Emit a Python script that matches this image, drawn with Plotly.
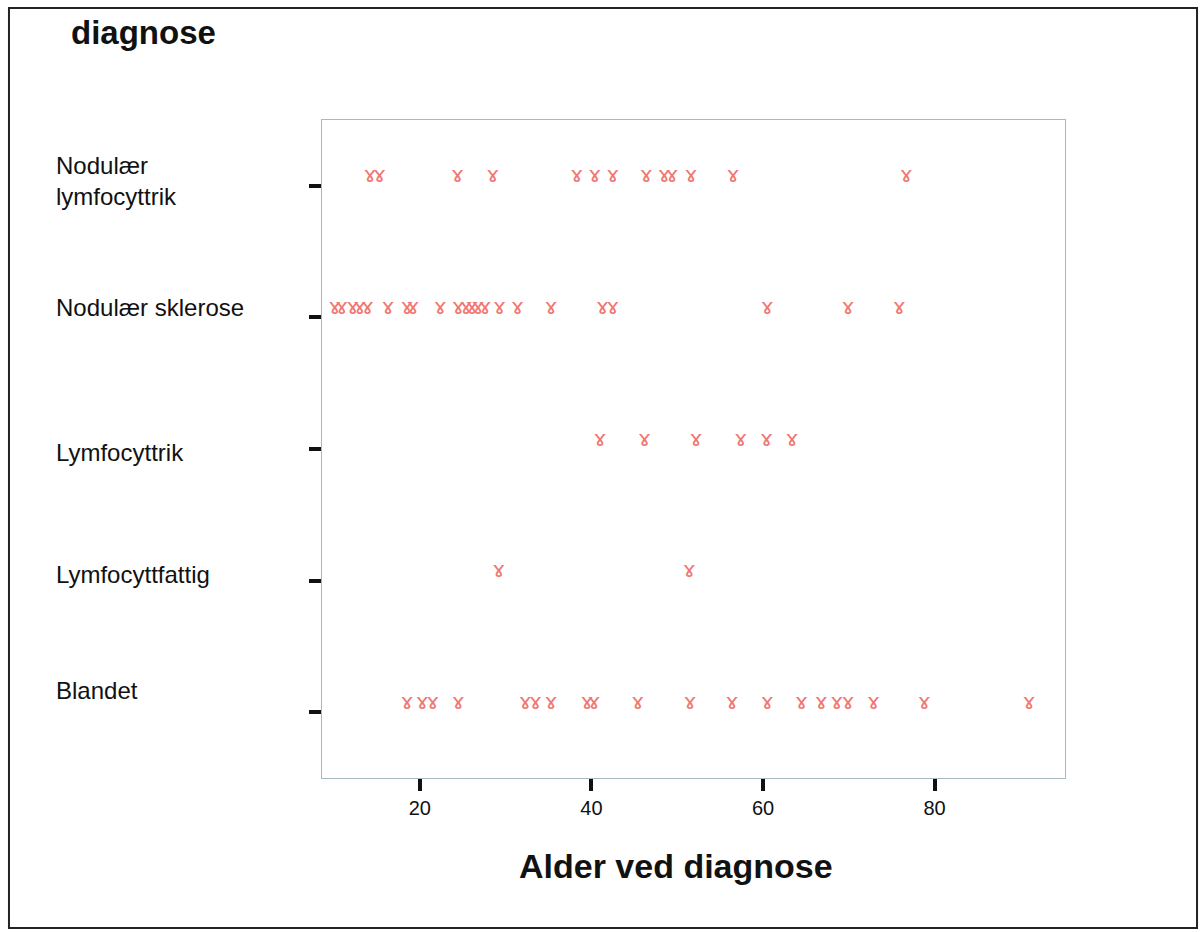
import plotly.graph_objects as go

categories = ["Blandet", "Lymfocyttfattig", "Lymfocyttrik", "Nodulær sklerose", "Nodulær<br>lymfocyttrik"]

ages_nodulaer_lymfocyttrik = [14.2, 15.3, 24.4, 28.5, 38.3, 40.4, 42.5, 46.4, 48.5, 49.4, 51.6, 56.5, 76.7]
ages_nodulaer_sklerose = [10.1, 10.9, 12.2, 13.0, 13.9, 16.3, 18.5, 19.2, 22.4, 24.5, 25.4, 26.1, 26.8,
                          27.6, 29.3, 31.4, 35.3, 41.3, 42.5, 60.5, 69.9, 75.9]
ages_lymfocyttrik = [41.0, 46.2, 52.2, 57.4, 60.4, 63.4]
ages_lymfocyttfattig = [29.2, 51.4]
ages_blandet = [18.5, 20.3, 21.5, 24.5, 32.3, 33.5, 35.3, 39.5, 40.3, 45.4, 51.5, 56.4, 60.5,
                64.5, 66.8, 68.6, 69.9, 72.9, 78.8, 91.0]

series = [ages_blandet, ages_lymfocyttfattig, ages_lymfocyttrik, ages_nodulaer_sklerose, ages_nodulaer_lymfocyttrik]
x_ticks = [20, 40, 60, 80]

label_shift = [22, 6, -3, 10, 5]
marker_color = "rgb(240,120,115)"

fig = go.Figure()
for i, vals in enumerate(series):
    fig.add_trace(go.Scatter(
        x=vals, y=[i] * len(vals), mode="text", yaxis="y2", text=["ɤ"] * len(vals),
        textposition="middle center",
        textfont=dict(family="DejaVu Sans", size=22, color=marker_color),
        showlegend=False, hoverinfo="x",
    ))

for i, c in enumerate(categories):
    fig.add_annotation(x=-0.3607, xref="paper", y=i, yref="y", yshift=label_shift[i],
                       text=c, showarrow=False, xanchor="left", yanchor="middle", align="left",
                       font=dict(family="Liberation Sans, Arial", size=24, color="#111"))

fig.add_annotation(x=-0.3405, xref="paper", y=1.1337, yref="paper", text="<b>diagnose</b>",
                   showarrow=False, xanchor="left", yanchor="middle",
                   font=dict(family="Liberation Sans, Arial", size=33, color="#111"))

fig.add_annotation(x=0.4764, xref="paper", y=-0.1337, yref="paper", text="<b>Alder ved diagnose</b>",
                   showarrow=False, xanchor="center", yanchor="middle",
                   font=dict(family="Liberation Sans, Arial", size=34, color="#111"))

fig.add_shape(type="rect", xref="paper", yref="paper", x0=-0.4213, x1=1.1777, y0=-0.228, y1=1.1702,
              line=dict(color="#222", width=2))

fig.update_layout(
    width=1200, height=932,
    margin=dict(l=322, r=135, t=120, b=154),
    paper_bgcolor="white", plot_bgcolor="white",
    xaxis=dict(range=[8.6, 95.2], tickvals=x_ticks, ticks="outside", ticklen=12, tickwidth=4,
               tickcolor="#111", showline=True, mirror=True, linecolor="#a8b8c0", linewidth=1,
               showgrid=False, zeroline=False,
               tickfont=dict(family="Liberation Sans, Arial", size=20, color="#111")),
    yaxis=dict(range=[-0.5, 4.5], tickvals=list(range(len(categories))), ticktext=[""] * len(categories),
               ticks="outside", ticklen=12, tickwidth=4, tickcolor="#111",
               showline=True, mirror=True, linecolor="#a8b8c0", linewidth=1,
               showgrid=False, zeroline=False),
    yaxis2=dict(range=[-0.5684, 4.4316], overlaying="y", visible=False, showgrid=False, zeroline=False),
)

fig.write_html("out.html")
